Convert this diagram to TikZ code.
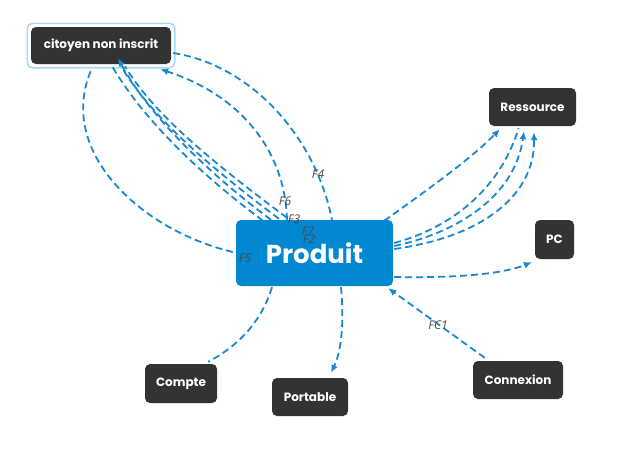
\documentclass[tikz,border=0pt]{standalone}
\usepackage{fontspec}
\setmainfont{Poppins}
\newfontfamily\labelfont{Open Sans}
\usetikzlibrary{arrows.meta,calc}
\definecolor{boxdark}{HTML}{333333}
\definecolor{prodblue}{HTML}{0288D1}
\definecolor{edgeblue}{HTML}{1A88D0}
\definecolor{selblue}{HTML}{A6DAF5}
\definecolor{labgray}{HTML}{4A4A4A}
\begin{document}
\begin{tikzpicture}[x=1pt,y=-1pt,
  darkbox/.style={fill=boxdark, rounded corners=5pt, text=white, font=\bfseries\fontsize{12}{14}\selectfont, inner sep=0pt, align=center},
  flow/.style={draw=edgeblue, line width=1.8pt, dash pattern=on 7pt off 4pt},
  arr/.style={-{Latex[length=8pt,width=7pt]}},
  lab/.style={font=\labelfont\itshape\fontsize{12}{14}\selectfont, text=labgray, inner sep=0pt}]
\useasboundingbox (0,0) rectangle (631,451);

% nodes
\node[darkbox, minimum width=140pt, minimum height=37pt] (cit) at (101,45.5) {citoyen non inscrit};
\draw[selblue, line width=1.6pt, rounded corners=5pt] ($(cit.north west)+(-3.5,-3.5)$) rectangle ($(cit.south east)+(3.5,3.5)$);
\node[darkbox, minimum width=87pt, minimum height=38pt] (res) at (532.5,107) {Ressource};
\node[darkbox, minimum width=39pt, minimum height=39pt] (pc) at (554.5,239.5) {PC};
\node[fill=prodblue, rounded corners=5pt, text=white, font=\bfseries\fontsize{26}{30}\selectfont, minimum width=157pt, minimum height=66pt, inner sep=0pt] (prod) at (314.5,253) {Produit};
\node[darkbox, minimum width=72pt, minimum height=39pt] (compte) at (181,383.5) {Compte};
\node[darkbox, minimum width=76pt, minimum height=38pt] (port) at (310,397) {Portable};
\node[darkbox, minimum width=90pt, minimum height=38pt] (conn) at (518,380) {Connexion};

% edges to citoyen
\draw[flow] ($(prod.west)+(-3,-1)$) .. controls (140,230) and (55,150) .. ($(cit.south)+(-9,4)$);
\draw[flow] ($(cit.east)+(2,7.5)$) .. controls (250,65) and (315,135) .. ($(prod.north)+(17.5,0)$);
\draw[flow,arr] ($(prod.north)+(-27.5,0)$) .. controls (285,150) and (240,95) .. ($(cit.south east)+(-11,5)$);
\draw[flow] ($(prod.north)+(-51.5,1)$) .. controls (191,167) and (141,115) .. ($(cit.south)+(11,2)$);
\draw[flow,arr] ($(prod.north)+(-43.5,0)$) .. controls (199,166) and (146,110) .. ($(cit.south)+(17,-6)$);
\draw[flow] ($(prod.north)+(-35.5,-1)$) .. controls (207,165) and (150,115) .. ($(cit.south)+(20,2)$);
\draw[flow] ($(prod.north)+(-27.5,-2)$) .. controls (215,164) and (154,115) .. ($(cit.south)+(24,2)$);

% edges to Ressource
\draw[flow,arr] ($(prod.north east)+(-9,1)$) .. controls (420,195) and (470,160) .. ($(res.south west)+(11,3)$);
\draw[flow] ($(prod.east)+(1,-10)$) .. controls (450,228) and (500,190) .. ($(res.south)+(-14,2)$);
\draw[flow,arr] ($(prod.east)+(1,-7)$) .. controls (460,232) and (515,195) .. ($(res.south)+(-8.5,5)$);
\draw[flow,arr] ($(prod.east)+(1,-4)$) .. controls (475,238) and (535,200) .. ($(res.south)+(1.5,6)$);

% other edges
\draw[flow,arr] ($(prod.east)+(1,24)$) .. controls (450,278) and (500,275) .. ($(pc.south west)+(-3,3)$);
\draw[flow,arr] ($(conn.north west)+(12,-3)$) -- ($(prod.south east)+(-5,2)$);
\draw[flow] ($(prod.south)+(-42.5,1)$) .. controls (262,320) and (240,345) .. ($(compte.north east)+(-9,-2)$);
\draw[flow,arr] ($(prod.south)+(26.5,1)$) .. controls (344,320) and (342,350) .. ($(port.north)+(21,-5)$);

% labels
\node[lab] (lf6) at (285,201) {F6};
\node[lab] (lf3) at (294,219) {F3};
\node[lab] (lf7) at (308,231) {F7};
\node[lab] (lf2) at (309,239) {F2};
\node[lab] (lf4) at (318,174) {F4};
\node[lab] (lf5) at (245,258) {F5};
\node[lab] (lfc1) at (438,325) {FC1};
\end{tikzpicture}
\end{document}
